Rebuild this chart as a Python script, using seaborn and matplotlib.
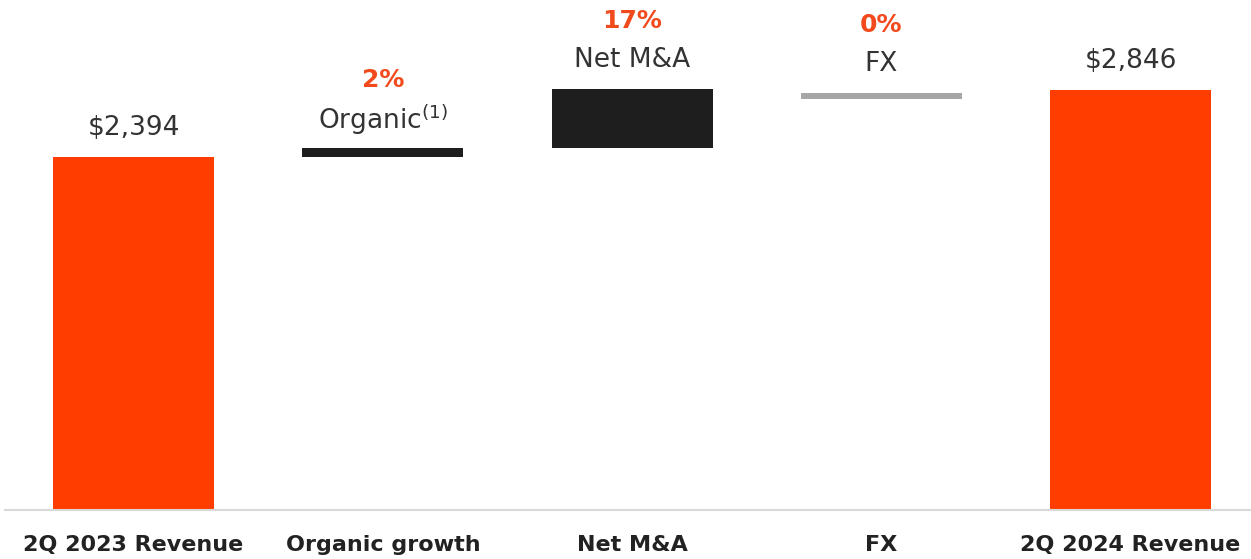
import matplotlib
matplotlib.use("Agg")
import matplotlib.pyplot as plt
import seaborn as sns
import pandas as pd

# ---- data ----
categories = ["2Q 2023 Revenue", "Organic growth", "Net M&A", "FX", "2Q 2024 Revenue"]
bar_low = [0, 2394, 2452, 2787, 0]
bar_high = [2394, 2452, 2852, 2828, 2846]
value_labels = ["$2,394", None, None, None, "$2,846"]
step_names = [None, "Organic$^{(1)}$", "Net M&A", "FX", None]
pct_labels = [None, "2%", "17%", "0%", None]

bar_colors = ["#FF3D00", "#1E1E1E", "#1E1E1E", "#A6A6A6", "#FF3D00"]
pct_color = "#F24A1C"
text_color = "#333333"

sns.set_theme(style="white")
plt.rcParams["font.family"] = ["DejaVu Sans"]
plt.rcParams["mathtext.default"] = "regular"

df = pd.DataFrame({
    "cat": categories,
    "height": [h - l for l, h in zip(bar_low, bar_high)],
    "bottom": bar_low,
})

fig = plt.figure(figsize=(12.51, 5.59), dpi=100)
ax = fig.add_axes([5 / 1251, 49 / 559, 1 - 5 / 1251, 1 - 49 / 559])

sns.barplot(data=df, x="cat", y="height", order=categories,
            bottom=df["bottom"].values, width=0.646, color="#1E1E1E",
            saturation=1, ax=ax, linewidth=0, errorbar=None)
for patch, c in zip(ax.patches, bar_colors):
    patch.set_facecolor(c)
    patch.set_edgecolor("none")

ax.set_xlim(-0.516, 4.483)
ax.set_ylim(0, 3459)
ax.set_xlabel("")
ax.set_ylabel("")
ax.set_yticks([])
for s in ["top", "right", "left"]:
    ax.spines[s].set_visible(False)
ax.spines["bottom"].set_color("#D9D9D9")
ax.spines["bottom"].set_linewidth(1.5)
ax.tick_params(axis="x", length=0, pad=18)
ax.set_xticks(range(len(categories)))
ax.set_xticklabels(categories, fontsize=16, fontweight="bold", color="#222222")

for i in range(len(categories)):
    top = bar_high[i]
    if value_labels[i]:
        ax.annotate(value_labels[i], (i, top), xytext=(0, 21), textcoords="offset points",
                    ha="center", va="center", fontsize=19, color=text_color)
    if step_names[i]:
        ax.annotate(step_names[i], (i, top), xytext=(0, 21), textcoords="offset points",
                    ha="center", va="center", fontsize=19, color=text_color)
    if pct_labels[i]:
        ax.annotate(pct_labels[i], (i, top), xytext=(0, 49), textcoords="offset points",
                    ha="center", va="center", fontsize=18, fontweight="bold", color=pct_color)

fig.savefig("out.png", dpi=100)
